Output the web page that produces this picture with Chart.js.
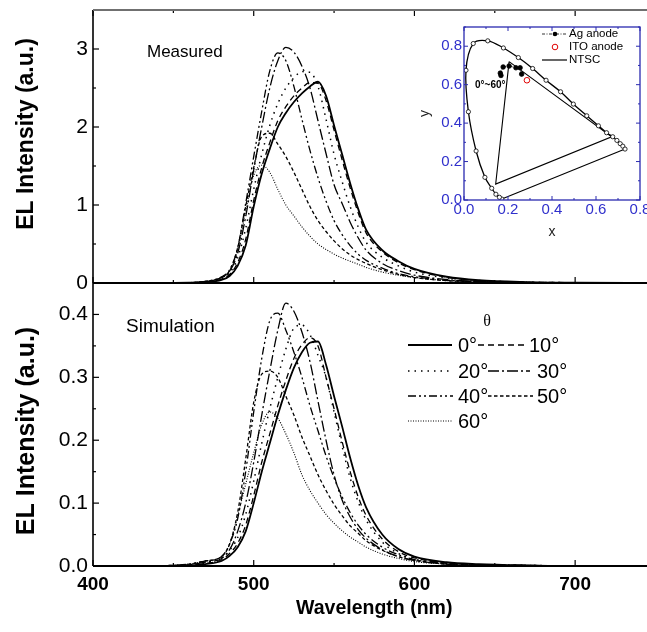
<!DOCTYPE html>
<html>
<head>
<meta charset="utf-8">
<script src="https://cdn.jsdelivr.net/npm/chart.js@4.4.1/dist/chart.umd.min.js"></script>
<style>
html, body { margin: 0; padding: 0; background: #fff; overflow: hidden; width: 647px; height: 632px; }
canvas { position: absolute; }
</style>
</head>
<body>
<canvas id="top" width="660" height="300" style="left:0;top:0"></canvas>
<canvas id="bottom" width="660" height="362" style="left:0;top:270px"></canvas>
<canvas id="cie" width="232" height="232" style="left:415px;top:15px"></canvas>
<script>
// wavelength grid (nm)
const wl = [440,460,470,480,485,490,495,500,505,510,515,520,525,530,535,540,545,550,555,560,565,570,580,590,600,620,640,670,700,750];
const angles = ['0°','10°','20°','30°','40°','50°','60°'];

// measured EL spectra
const meas0  = [0,0.003,0.01,0.04,0.09,0.22,0.48,0.98,1.4,1.72,2.0,2.18,2.32,2.43,2.52,2.58,2.4,2.02,1.65,1.28,0.95,0.68,0.42,0.28,0.18,0.08,0.035,0.012,0.005,0];
const meas10 = [0,0.003,0.012,0.05,0.11,0.26,0.56,1.06,1.48,1.8,2.08,2.26,2.4,2.5,2.57,2.56,2.34,1.96,1.58,1.22,0.9,0.64,0.4,0.26,0.17,0.075,0.033,0.011,0.005,0];
const meas20 = [0,0.004,0.015,0.06,0.13,0.32,0.7,1.2,1.65,2.02,2.3,2.5,2.63,2.71,2.7,2.52,2.1,1.65,1.3,0.98,0.72,0.52,0.33,0.22,0.14,0.065,0.03,0.01,0.004,0];
const meas30 = [0,0.005,0.02,0.07,0.15,0.38,0.85,1.45,2.0,2.5,2.85,3.02,2.96,2.78,2.5,2.08,1.66,1.26,1.02,0.78,0.58,0.42,0.25,0.16,0.1,0.045,0.02,0.008,0.003,0];
const meas40 = [0,0.005,0.02,0.08,0.17,0.45,1.02,1.62,2.2,2.72,2.95,2.85,2.52,2.1,1.7,1.35,1.05,0.8,0.62,0.48,0.37,0.29,0.19,0.12,0.08,0.035,0.016,0.006,0.002,0];
const meas50 = [0,0.005,0.02,0.07,0.16,0.45,0.98,1.48,1.88,1.92,1.78,1.62,1.42,1.2,0.98,0.8,0.66,0.54,0.44,0.36,0.3,0.25,0.17,0.11,0.07,0.03,0.014,0.005,0.002,0];
const meas60 = [0,0.005,0.02,0.07,0.15,0.42,0.92,1.38,1.51,1.42,1.2,1.0,0.86,0.72,0.6,0.5,0.43,0.37,0.32,0.28,0.24,0.2,0.14,0.1,0.07,0.03,0.014,0.005,0.002,0];

// simulated EL spectra
const sim0  = [0,0.001,0.003,0.008,0.016,0.03,0.055,0.1,0.15,0.195,0.24,0.28,0.315,0.34,0.355,0.357,0.32,0.27,0.222,0.172,0.128,0.093,0.05,0.027,0.015,0.006,0.003,0.001,0,0];
const sim10 = [0,0.001,0.004,0.01,0.02,0.036,0.065,0.112,0.165,0.21,0.255,0.295,0.33,0.352,0.363,0.35,0.3,0.25,0.198,0.15,0.11,0.08,0.043,0.023,0.013,0.005,0.002,0.001,0,0];
const sim20 = [0,0.002,0.005,0.013,0.025,0.045,0.082,0.135,0.195,0.25,0.3,0.345,0.378,0.383,0.368,0.335,0.3,0.245,0.19,0.14,0.102,0.073,0.038,0.02,0.011,0.004,0.002,0.001,0,0];
const sim30 = [0,0.002,0.006,0.012,0.026,0.055,0.1,0.165,0.24,0.31,0.375,0.418,0.405,0.372,0.325,0.262,0.2,0.145,0.105,0.078,0.058,0.044,0.026,0.015,0.009,0.003,0.001,0,0,0];
const sim40 = [0,0.003,0.008,0.015,0.035,0.075,0.15,0.245,0.33,0.39,0.402,0.375,0.34,0.3,0.255,0.215,0.175,0.14,0.11,0.085,0.065,0.05,0.03,0.018,0.01,0.004,0.002,0.001,0,0];
const sim50 = [0,0.003,0.008,0.015,0.035,0.085,0.17,0.26,0.305,0.31,0.3,0.27,0.24,0.205,0.175,0.145,0.12,0.098,0.08,0.064,0.052,0.04,0.025,0.015,0.009,0.003,0.001,0,0,0];
const sim60 = [0,0.003,0.008,0.015,0.035,0.08,0.13,0.18,0.225,0.245,0.235,0.21,0.18,0.145,0.12,0.1,0.082,0.068,0.056,0.046,0.038,0.03,0.019,0.012,0.007,0.003,0.001,0,0,0];

const measured = [meas0, meas10, meas20, meas30, meas40, meas50, meas60];
const simulated = [sim0, sim10, sim20, sim30, sim40, sim50, sim60];

// axis ticks
const xTicks = [400,500,600,700];
const xMinor = [400,450,500,550,600,650,700,750];
const yTicksTop = [0,1,2,3];
const yMinorTop = [0,0.5,1,1.5,2,2.5,3,3.5];
const yTicksBottom = [0,0.1,0.2,0.3,0.4];
const yMinorBottom = [0,0.05,0.1,0.15,0.2,0.25,0.3,0.35,0.4,0.45];

// CIE inset
const cieTicks = [0,0.2,0.4,0.6,0.8];
const cieMinor = [0,0.1,0.2,0.3,0.4,0.5,0.6,0.7,0.8,0.9];
const locusX = [0.172,0.161,0.145,0.126,0.095,0.055,0.02,0.009,0.042,0.108,0.179,0.247,0.312,0.373,0.439,0.497,0.558,0.611,0.648,0.676,0.695,0.71,0.722,0.732];
const locusY = [0.005,0.014,0.03,0.061,0.118,0.255,0.459,0.675,0.814,0.828,0.791,0.741,0.684,0.623,0.563,0.499,0.438,0.386,0.35,0.329,0.31,0.293,0.28,0.265];
const purpleX = [0.172,0.732];
const purpleY = [0.005,0.265];
const ntscX = [0.205,0.144,0.671,0.205];
const ntscY = [0.72,0.083,0.329,0.72];
const agX = [0.262,0.255,0.236,0.205,0.178,0.165,0.168];
const agY = [0.655,0.688,0.688,0.697,0.692,0.66,0.648];
const itoX = [0.286];
const itoY = [0.623];

const FONT = '"Liberation Sans", Arial, sans-serif';
Chart.defaults.font.family = FONT;
Chart.defaults.color = '#000';

const lineStyles = [
  {dash: [], w: 1.8},
  {dash: [6, 4], w: 1.3},
  {dash: [1.5, 5], w: 1.5},
  {dash: [11, 3, 2, 3], w: 1.3},
  {dash: [8, 3, 2, 3, 2, 3], w: 1.3},
  {dash: [3.5, 2.5], w: 1.3},
  {dash: [1, 1.5], w: 1.1}
];

function pts(xs, ys) { return xs.map((v, i) => ({x: v, y: ys[i]})); }
function seg(ctx, x1, y1, x2, y2) { ctx.beginPath(); ctx.moveTo(x1, y1); ctx.lineTo(x2, y2); ctx.stroke(); }
function noPad(s) { s.paddingLeft = 0; s.paddingRight = 0; s.paddingTop = 0; s.paddingBottom = 0; }

// legend of the simulation panel (page coords, canvas is 270px lower)
const legendPos = [
  {x1: 408, x2: 452, y: 345, tx: 458},
  {x1: 478, x2: 527, y: 345, tx: 529},
  {x1: 408, x2: 452, y: 371, tx: 458},
  {x1: 488, x2: 530, y: 371, tx: 537},
  {x1: 408, x2: 453, y: 396, tx: 458},
  {x1: 488, x2: 533, y: 396, tx: 537},
  {x1: 408, x2: 452, y: 421, tx: 458}
];

const spectraFrame = {
  id: 'spectraFrame',
  afterDraw(chart, args, o) {
    const {ctx, chartArea: a, scales: {x, y}} = chart;
    ctx.save();
    ctx.strokeStyle = '#000';
    ctx.lineWidth = 1.2;
    xMinor.forEach(v => {
      const px = x.getPixelForValue(v);
      const len = xTicks.includes(v) ? 6 : 3;
      seg(ctx, px, a.bottom, px, a.bottom - len);
      if (o.topTicks) seg(ctx, px, a.top, px, a.top + len);
    });
    o.yMinor.forEach((v, i) => {
      const py = y.getPixelForValue(v);
      const len = i % 2 === 0 ? 6 : 3;
      seg(ctx, a.left, py, a.left + len, py);
    });
    ctx.lineWidth = 1.6;
    seg(ctx, a.left, a.top, a.left, a.bottom);
    ctx.lineWidth = 2;
    seg(ctx, a.left, a.bottom, a.right, a.bottom);
    if (o.topTicks) {
      ctx.strokeStyle = '#707070';
      seg(ctx, a.left, a.top, a.right, a.top);
    }
    ctx.fillStyle = '#000';
    ctx.textBaseline = 'middle';
    ctx.textAlign = 'left';
    ctx.font = o.labelSize + 'px ' + FONT;
    ctx.fillText(o.label, o.labelX, o.labelY);
    ctx.save();
    ctx.translate(27, o.titleY);
    ctx.rotate(-Math.PI / 2);
    ctx.textAlign = 'center';
    ctx.font = 'bold ' + o.titleSize + 'px ' + FONT;
    ctx.fillText('EL Intensity (a.u.)', 0, 0);
    ctx.restore();
    if (o.showLegend) {
      const off = 270;
      ctx.font = '16px "Liberation Serif", "DejaVu Serif", serif';
      ctx.textAlign = 'center';
      ctx.fillText('θ', 487, 322 - off);
      ctx.textAlign = 'left';
      ctx.font = '20px ' + FONT;
      legendPos.forEach((p, i) => {
        const st = lineStyles[i];
        ctx.strokeStyle = '#000';
        ctx.lineWidth = st.w;
        ctx.setLineDash(st.dash);
        seg(ctx, p.x1, p.y - off, p.x2, p.y - off);
        ctx.setLineDash([]);
        ctx.fillText(angles[i], p.tx, p.y - off + 1);
      });
    }
    ctx.restore();
  }
};

function spectraDatasets(series) {
  return series.map((vals, i) => ({
    label: angles[i],
    data: pts(wl, vals),
    borderColor: '#000',
    borderWidth: lineStyles[i].w,
    borderDash: lineStyles[i].dash,
    pointRadius: 0,
    fill: false,
    cubicInterpolationMode: 'monotone'
  }));
}

function spectraOptions(cfg) {
  return {
    responsive: false,
    animation: false,
    devicePixelRatio: 1,
    layout: {padding: cfg.padding},
    plugins: {
      legend: {display: false},
      tooltip: {enabled: false},
      spectraFrame: cfg.frame
    },
    scales: {
      x: {
        type: 'linear', min: 400, max: 750,
        display: cfg.showX,
        afterBuildTicks: s => { s.ticks = xTicks.map(v => ({value: v})); },
        afterFit: s => { s.height = cfg.showX ? 66 : 0; noPad(s); },
        grid: {display: false, drawTicks: false},
        border: {display: false},
        ticks: {font: {size: 19, weight: 'bold'}, padding: 7, maxRotation: 0, color: '#000'},
        title: {display: true, text: 'Wavelength (nm)', font: {size: 19.5, weight: 'bold'}, padding: {top: 0, bottom: 12}, color: '#000'}
      },
      y: {
        type: 'linear', min: 0, max: cfg.yMax,
        afterBuildTicks: s => { s.ticks = cfg.yTicks.map(v => ({value: v})); },
        afterFit: s => { s.width = 93; noPad(s); },
        grid: {display: false, drawTicks: false},
        border: {display: false},
        ticks: {font: {size: 21}, padding: 5, color: '#000', callback: cfg.fmt}
      }
    }
  };
}

new Chart(document.getElementById('top'), {
  type: 'line',
  data: {datasets: spectraDatasets(measured)},
  options: spectraOptions({
    padding: {top: 10, right: 4.5, bottom: 17, left: 0},
    showX: false,
    yMax: 3.5,
    yTicks: yTicksTop,
    fmt: v => String(v),
    frame: {topTicks: true, yMinor: yMinorTop, label: 'Measured', labelSize: 17, labelX: 147, labelY: 52, titleY: 134, titleSize: 23, showLegend: false}
  }),
  plugins: [spectraFrame]
});

new Chart(document.getElementById('bottom'), {
  type: 'line',
  data: {datasets: spectraDatasets(simulated)},
  options: spectraOptions({
    padding: {top: 13, right: 4.5, bottom: 0, left: 0},
    showX: true,
    yMax: 0.45,
    yTicks: yTicksBottom,
    fmt: v => v.toFixed(1),
    frame: {topTicks: false, yMinor: yMinorBottom, label: 'Simulation', labelSize: 19, labelX: 126, labelY: 57, titleY: 161, titleSize: 25, showLegend: true}
  }),
  plugins: [spectraFrame]
});

// CIE 1931 inset
const BLUE = '#2a2ab0';
const LBLUE = '#3030cc';
const cieFrame = {
  id: 'cieFrame',
  afterDraw(chart) {
    const {ctx, chartArea: a, scales: {x, y}} = chart;
    ctx.save();
    ctx.strokeStyle = BLUE;
    ctx.lineWidth = 1;
    cieMinor.forEach((v, i) => {
      const len = i % 2 === 0 ? 4 : 2;
      if (v <= 0.8) {
        const px = x.getPixelForValue(v);
        seg(ctx, px, a.bottom, px, a.bottom - len);
        seg(ctx, px, a.top, px, a.top + len);
      }
      const py = y.getPixelForValue(v);
      seg(ctx, a.left, py, a.left + len, py);
      seg(ctx, a.right, py, a.right - len, py);
    });
    ctx.lineWidth = 1.3;
    ctx.strokeRect(a.left, a.top, a.right - a.left, a.bottom - a.top);
    // legend
    ctx.font = '11.5px ' + FONT;
    ctx.textBaseline = 'middle';
    ctx.textAlign = 'left';
    ctx.fillStyle = '#000';
    ctx.strokeStyle = '#000';
    ctx.lineWidth = 0.8;
    ctx.setLineDash([3, 1.5, 1, 1.5]);
    seg(ctx, 127, 19, 152, 19);
    ctx.setLineDash([]);
    ctx.beginPath(); ctx.arc(140, 19, 2.3, 0, Math.PI * 2); ctx.fill();
    ctx.fillText('Ag anode', 154, 19);
    ctx.strokeStyle = '#e00000';
    ctx.lineWidth = 1;
    ctx.beginPath(); ctx.arc(140, 32, 2.8, 0, Math.PI * 2); ctx.stroke();
    ctx.fillText('ITO anode', 154, 32);
    ctx.strokeStyle = '#000';
    ctx.lineWidth = 1.2;
    seg(ctx, 127, 45, 152, 45);
    ctx.fillText('NTSC', 154, 45);
    ctx.font = 'bold 10px ' + FONT;
    ctx.fillText('0°~60°', 60, 70);
    ctx.restore();
  }
};

new Chart(document.getElementById('cie'), {
  type: 'scatter',
  data: {
    datasets: [
      {data: pts(locusX, locusY), showLine: true, tension: 0.35, borderColor: '#000', borderWidth: 1.3,
       pointRadius: 2.1, pointBackgroundColor: '#fff', pointBorderColor: '#000', pointBorderWidth: 0.8},
      {data: pts(purpleX, purpleY), showLine: true, borderColor: '#000', borderWidth: 1.1, pointRadius: 0},
      {data: pts(ntscX, ntscY), showLine: true, borderColor: '#000', borderWidth: 1.1, pointRadius: 0},
      {data: pts(agX, agY), showLine: true, borderColor: '#000', borderWidth: 0.8, borderDash: [3, 1.5, 1, 1.5],
       pointRadius: 2.3, pointBackgroundColor: '#000', pointBorderColor: '#000'},
      {data: pts(itoX, itoY), showLine: false, pointRadius: 2.8, pointBackgroundColor: 'rgba(0,0,0,0)',
       pointBorderColor: '#e00000', pointBorderWidth: 1}
    ]
  },
  options: {
    responsive: false,
    animation: false,
    devicePixelRatio: 1,
    layout: {padding: {top: 12, right: 7, bottom: 0, left: 0}},
    plugins: {legend: {display: false}, tooltip: {enabled: false}},
    scales: {
      x: {
        type: 'linear', min: 0, max: 0.8,
        afterBuildTicks: s => { s.ticks = cieTicks.map(v => ({value: v})); },
        afterFit: s => { s.height = 47; noPad(s); },
        grid: {display: false, drawTicks: false},
        border: {display: false},
        ticks: {font: {size: 15}, color: LBLUE, padding: 1, maxRotation: 0, callback: v => v.toFixed(1)},
        title: {display: true, text: 'x', font: {size: 14}, color: '#222', padding: {top: 0, bottom: 6.6}}
      },
      y: {
        type: 'linear', min: 0, max: 0.9,
        afterBuildTicks: s => { s.ticks = cieTicks.map(v => ({value: v})); },
        afterFit: s => { s.width = 49; noPad(s); },
        grid: {display: false, drawTicks: false},
        border: {display: false},
        ticks: {font: {size: 15}, color: LBLUE, padding: 2, callback: v => v.toFixed(1)},
        title: {display: true, text: 'y', font: {size: 14}, color: '#222', padding: {top: 1.6, bottom: 0}}
      }
    }
  },
  plugins: [cieFrame]
});
</script>
</body>
</html>
